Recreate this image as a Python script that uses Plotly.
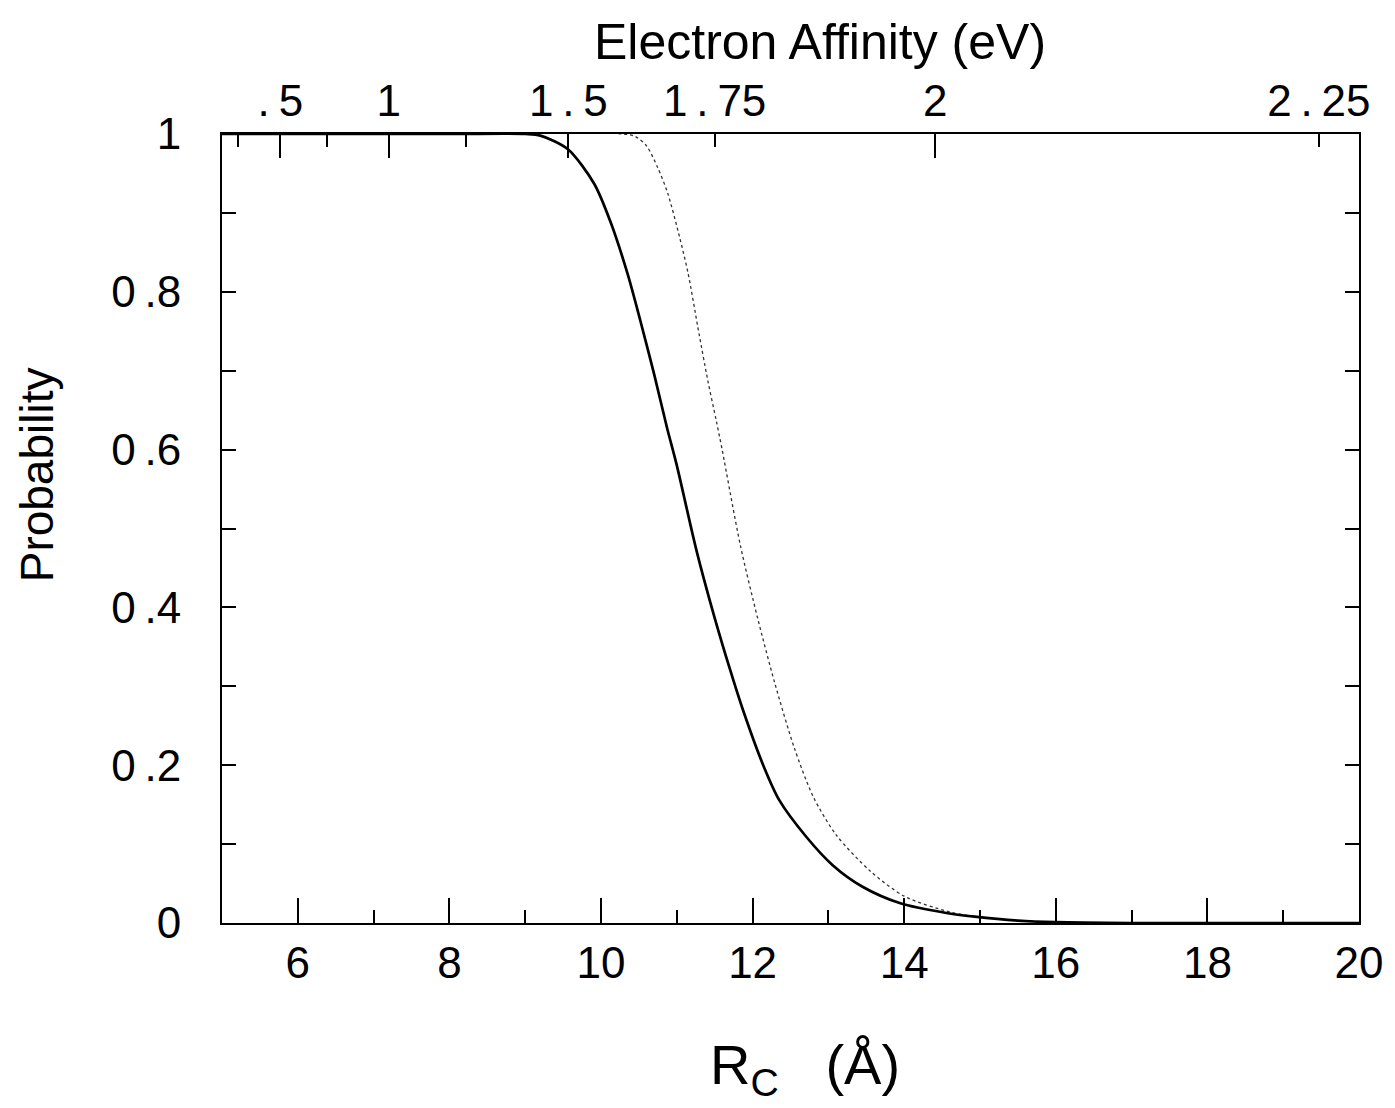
import plotly.graph_objects as go

# ---- data ----
r_solid = [5.0, 8.0, 9.0, 9.2, 9.56, 9.91, 10.12, 10.35, 10.52, 10.70, 10.87, 11.0,
           11.26, 11.49, 11.70, 11.88, 12.14, 12.35, 12.71, 13.06, 13.45, 13.95,
           14.54, 14.93, 15.5, 16.0, 17.0, 20.0]
p_solid = [1.0, 1.0, 1.0, 0.998, 0.981, 0.937, 0.89, 0.823, 0.763, 0.696, 0.628, 0.58,
           0.472, 0.390, 0.322, 0.268, 0.200, 0.156, 0.109, 0.073, 0.046, 0.025,
           0.013, 0.008, 0.003, 0.001, 0.0, 0.0]

r_dotted = [5.0, 10.3, 10.45, 10.6, 10.75, 10.88, 11.04, 11.15, 11.28, 11.41, 11.52, 11.60,
            11.84, 12.07, 12.29, 12.55, 12.8, 13.1, 13.55, 14.0, 14.6, 14.95, 15.5, 16.0,
            17.0, 20.0]
p_dotted = [1.0, 1.0, 0.997, 0.985, 0.957, 0.925, 0.868, 0.823, 0.754, 0.687, 0.637, 0.599,
            0.478, 0.385, 0.305, 0.222, 0.160, 0.112, 0.066, 0.034, 0.014, 0.008, 0.003, 0.001,
            0.0, 0.0]

# bottom axis (R_c)
x_major = [6, 8, 10, 12, 14, 16, 18, 20]
x_major_text = ["6", "8", "10", "12", "14", "16", "18", "20"]
x_minor = [7, 9, 11, 13, 15, 17, 19]

# left axis (probability)
y_major = [0, 0.2, 0.4, 0.6, 0.8, 1.0]
y_major_text = ["0", "0\u2009.2", "0\u2009.4", "0\u2009.6", "0\u2009.8", "1"]
y_minor = [0.1, 0.3, 0.5, 0.7, 0.9]

# top axis (electron affinity) - positions on the R_c scale
ea_label_pos = [5.77, 7.20, 9.57, 11.50, 14.41, 19.47]
ea_label_text = [".\u20095", "1", "1\u2009.\u20095", "1\u2009.\u200975", "2", "2\u2009.\u200925"]
ea_long_pos = [5.77, 7.20, 9.57, 14.41]
ea_short_pos = [5.21, 6.39, 8.22, 11.50, 19.47]

FONT = "Liberation Sans, Arial, Helvetica, sans-serif"

fig = go.Figure()
fig.add_trace(go.Scatter(x=r_dotted, y=p_dotted, mode="lines",
                         line=dict(color="#333333", width=1.3, dash="dot", shape="spline", smoothing=0.8),
                         showlegend=False, hoverinfo="skip"))
fig.add_trace(go.Scatter(x=r_solid, y=p_solid, mode="lines",
                         line=dict(color="black", width=2.7, shape="spline", smoothing=0.8),
                         showlegend=False, hoverinfo="skip"))
# invisible traces to activate the top axes
fig.add_trace(go.Scatter(x=[5, 20], y=[0, 0], xaxis="x2", mode="markers",
                         marker=dict(opacity=0), showlegend=False, hoverinfo="skip"))
fig.add_trace(go.Scatter(x=[5, 20], y=[0, 0], xaxis="x3", mode="markers",
                         marker=dict(opacity=0), showlegend=False, hoverinfo="skip"))

fig.update_layout(
    width=1395, height=1108,
    margin=dict(l=222, r=28, t=134, b=185),
    paper_bgcolor="white", plot_bgcolor="white",
    font=dict(family=FONT, color="black"),
    xaxis=dict(range=[5, 20], tickmode="array", tickvals=x_major, ticktext=x_major_text,
               ticks="inside", ticklen=25, tickwidth=2, tickcolor="black",
               minor=dict(tickmode="array", tickvals=x_minor, ticks="inside", ticklen=13,
                          tickwidth=2, tickcolor="black"),
               showline=True, linewidth=2, linecolor="black", mirror=True,
               showgrid=False, zeroline=False, tickfont=dict(size=44, family=FONT),
               ticklabelstandoff=0),
    xaxis2=dict(range=[5, 20], overlaying="x", side="top", anchor="y", tickmode="array",
                tickvals=ea_label_pos, ticktext=ea_label_text, ticks="",
                showline=False, showgrid=False, zeroline=False,
                tickfont=dict(size=44, family=FONT), ticklabelstandoff=8),
    xaxis3=dict(range=[5, 20], overlaying="x", side="top", anchor="y", tickmode="array",
                tickvals=ea_long_pos, showticklabels=False, ticks="inside", ticklen=24,
                tickwidth=2, tickcolor="black",
                minor=dict(tickmode="array", tickvals=ea_short_pos, ticks="inside", ticklen=13,
                           tickwidth=2, tickcolor="black"),
                showline=False, showgrid=False, zeroline=False),
    yaxis=dict(range=[0, 1], tickmode="array", tickvals=y_major, ticktext=y_major_text,
               ticks="inside", ticklen=14, tickwidth=2, tickcolor="black",
               minor=dict(tickmode="array", tickvals=y_minor, ticks="inside", ticklen=14,
                          tickwidth=2, tickcolor="black"),
               showline=True, linewidth=2, linecolor="black", mirror="ticks",
               showgrid=False, zeroline=False, tickfont=dict(size=44, family=FONT),
               ticklabelstandoff=30),
    annotations=[
        dict(text="Electron Affinity (eV)", x=824, y=42, showarrow=False,
             font=dict(size=50, family=FONT)),
        dict(text="R<sub>C</sub>   (Å)", x=809, y=1068, showarrow=False,
             font=dict(size=56, family=FONT)),
        dict(text="Probability", x=36, y=475, showarrow=False, textangle=-90,
             font=dict(size=46, family=FONT)),
    ],
)

# place annotations in pixel space by converting to paper coordinates
pw = 1395 - 222 - 28
ph = 1108 - 134 - 185
new_ann = []
for a in fig.layout.annotations:
    px, py = a.x, a.y
    a.x = (px - 222) / pw
    a.y = 1 - (py - 134) / ph
    a.xref = "paper"
    a.yref = "paper"
    a.xanchor = "center"
    a.yanchor = "middle"
    new_ann.append(a)
fig.layout.annotations = new_ann

fig.write_html("out.html")
